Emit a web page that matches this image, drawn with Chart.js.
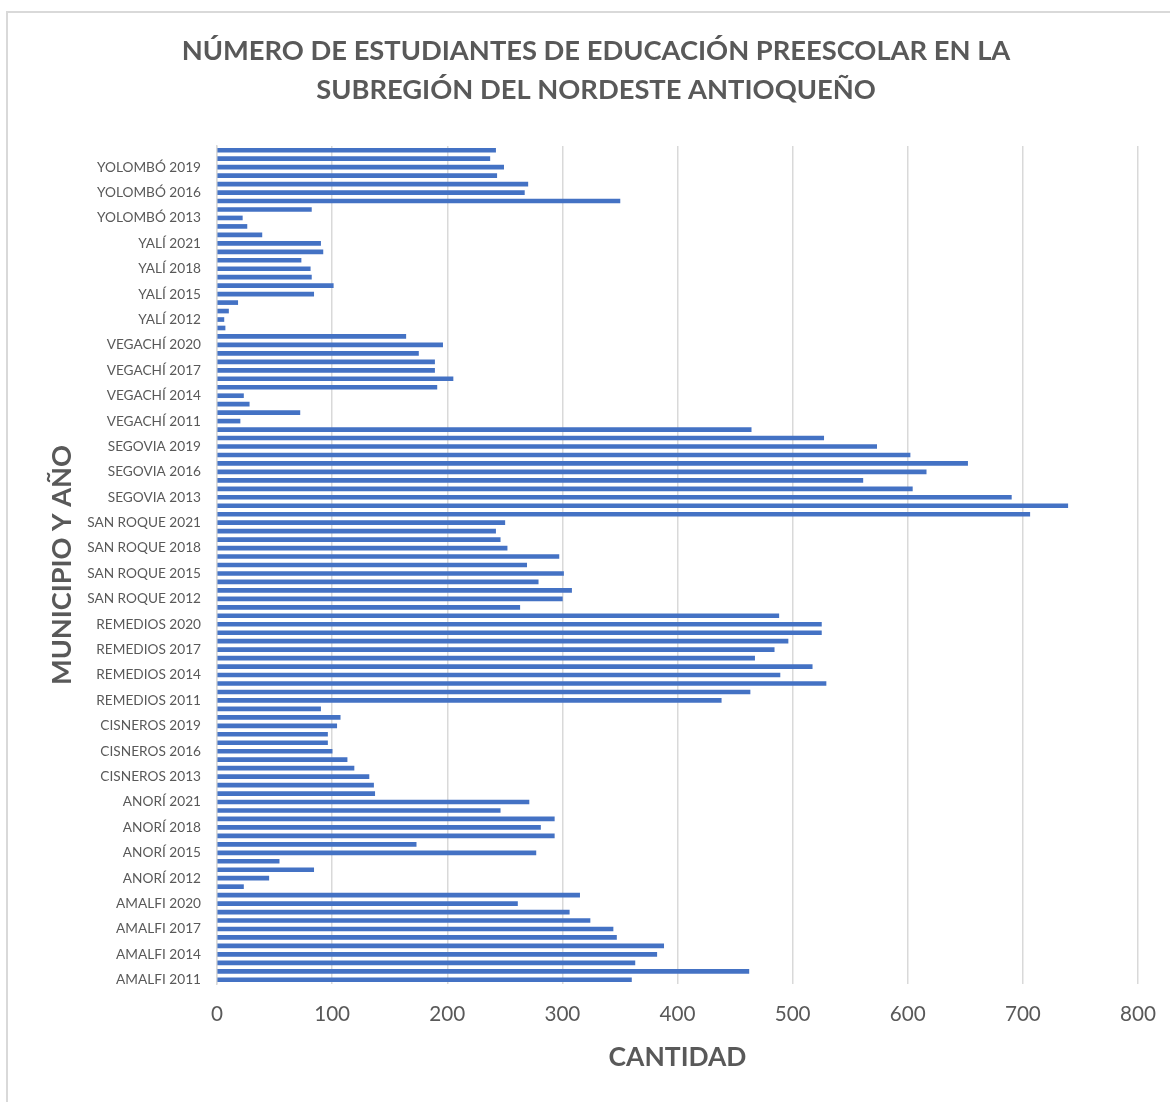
<!DOCTYPE html>
<html>
<head>
<meta charset="utf-8">
<script src="https://cdn.jsdelivr.net/npm/chart.js@4.4.1/dist/chart.umd.min.js"></script>
<style>
  html, body { margin: 0; padding: 0; background: #fff; overflow: hidden; }
  #frame { position: absolute; left: 6px; top: 11px; width: 1300px; height: 1300px; border: 2px solid #d9d9d9; }
  #chart { position: absolute; left: 0; top: 0; }
</style>
</head>
<body>
<div id="frame"></div>
<canvas id="chart" width="1170" height="1102"></canvas>
<script>
// Data (bottom to top: municipality, then year)
const municipios = ['AMALFI', 'ANORÍ', 'CISNEROS', 'REMEDIOS', 'SAN ROQUE', 'SEGOVIA', 'VEGACHÍ', 'YALÍ', 'YOLOMBÓ'];
const years = [2011, 2012, 2013, 2014, 2015, 2016, 2017, 2018, 2019, 2020, 2021];

const amalfi   = [360, 462, 363, 382, 388, 347, 344, 324, 306, 261, 315];
const anori    = [23, 45, 84, 54, 277, 173, 293, 281, 293, 246, 271];
const cisneros = [137, 136, 132, 119, 113, 100, 96, 96, 104, 107, 90];
const remedios = [438, 463, 529, 489, 517, 467, 484, 496, 525, 525, 488];
const sanRoque = [263, 300, 308, 279, 301, 269, 297, 252, 246, 242, 250];
const segovia  = [706, 739, 690, 604, 561, 616, 652, 602, 573, 527, 464];
const vegachi  = [20, 72, 28, 23, 191, 205, 189, 189, 175, 196, 164];
const yali     = [7, 6, 10, 18, 84, 101, 82, 81, 73, 92, 90];
const yolombo  = [39, 26, 22, 82, 350, 267, 270, 243, 249, 237, 242];

const xTicks = [0, 100, 200, 300, 400, 500, 600, 700, 800];

const TITLE = ['NÚMERO DE ESTUDIANTES DE EDUCACIÓN PREESCOLAR EN LA', 'SUBREGIÓN DEL NORDESTE ANTIOQUEÑO'];

// build labels + values
const series = [amalfi, anori, cisneros, remedios, sanRoque, segovia, vegachi, yali, yolombo];
const labels = [];
const values = [];
municipios.forEach((m, i) => {
    years.forEach((y, j) => {
        labels.push(m + ' ' + y);
        values.push(series[i][j]);
    });
});

const FAMILY = 'Lato, "Liberation Sans", sans-serif';
const GREY = '#595959';

// size fonts so text widths match the original
const meas = document.createElement('canvas').getContext('2d');
function fitSize(text, weight, width) {
    meas.font = weight + ' 100px ' + FAMILY;
    return 100 * width / meas.measureText(text).width;
}
const titleSize = fitSize(TITLE[0], 'bold', 829);
const yTitleSize = fitSize('MUNICIPIO Y AÑO', 'bold', 240);
const xTitleSize = fitSize('CANTIDAD', 'bold', 138);
const yTickSize = fitSize('SAN ROQUE 2021', 'normal', 114);
const xTickSize = fitSize('100', 'normal', 36);

// chart title drawn on the canvas
const titlePlugin = {
    id: 'titleLines',
    afterDraw(chart) {
        const ctx = chart.ctx;
        ctx.save();
        ctx.font = 'bold ' + titleSize + 'px ' + FAMILY;
        ctx.fillStyle = GREY;
        ctx.textAlign = 'center';
        ctx.textBaseline = 'alphabetic';
        ctx.fillText(TITLE[0], 596, 60);
        ctx.fillText(TITLE[1], 596, 99);
        ctx.restore();
    }
};

new Chart(document.getElementById('chart'), {
    type: 'bar',
    data: {
        labels: labels,
        datasets: [{
            data: values,
            backgroundColor: '#4472C4',
            barThickness: 4
        }]
    },
    options: {
        indexAxis: 'y',
        responsive: false,
        animation: false,
        devicePixelRatio: 1,
        layout: { padding: { top: 146, right: 32, bottom: 0, left: 0 } },
        plugins: {
            legend: { display: false },
            tooltip: { enabled: false }
        },
        scales: {
            x: {
                min: 0,
                max: 800,
                afterBuildTicks: (s) => { s.ticks = xTicks.map(v => ({ value: v })); },
                afterFit: (s) => { s.height = 118; s.paddingRight = 0; s.paddingLeft = 0; },
                grid: { color: '#d9d9d9', lineWidth: 1.5, drawTicks: false },
                border: { display: false },
                ticks: {
                    color: GREY,
                    padding: 18,
                    font: { family: FAMILY, size: xTickSize }
                },
                title: {
                    display: true,
                    text: 'CANTIDAD',
                    color: GREY,
                    font: { family: FAMILY, size: xTitleSize, weight: 'bold' },
                    padding: { top: 0, bottom: 1102 - 1057 - xTitleSize * 0.6 }
                }
            },
            y: {
                reverse: true,
                afterFit: (s) => { s.width = 217; },
                grid: { display: false, drawTicks: false },
                border: { display: true, color: '#d9d9d9', width: 1.5 },
                ticks: {
                    autoSkip: false,
                    color: GREY,
                    padding: 16,
                    font: { family: FAMILY, size: yTickSize },
                    callback: function (v, i) { return i % 3 === 0 ? this.getLabelForValue(v) : ''; }
                },
                title: {
                    display: true,
                    text: 'MUNICIPIO Y AÑO',
                    color: GREY,
                    font: { family: FAMILY, size: yTitleSize, weight: 'bold' },
                    padding: { top: 62 - yTitleSize * 0.6, bottom: 0 }
                }
            }
        }
    },
    plugins: [titlePlugin]
});
</script>
</body>
</html>
